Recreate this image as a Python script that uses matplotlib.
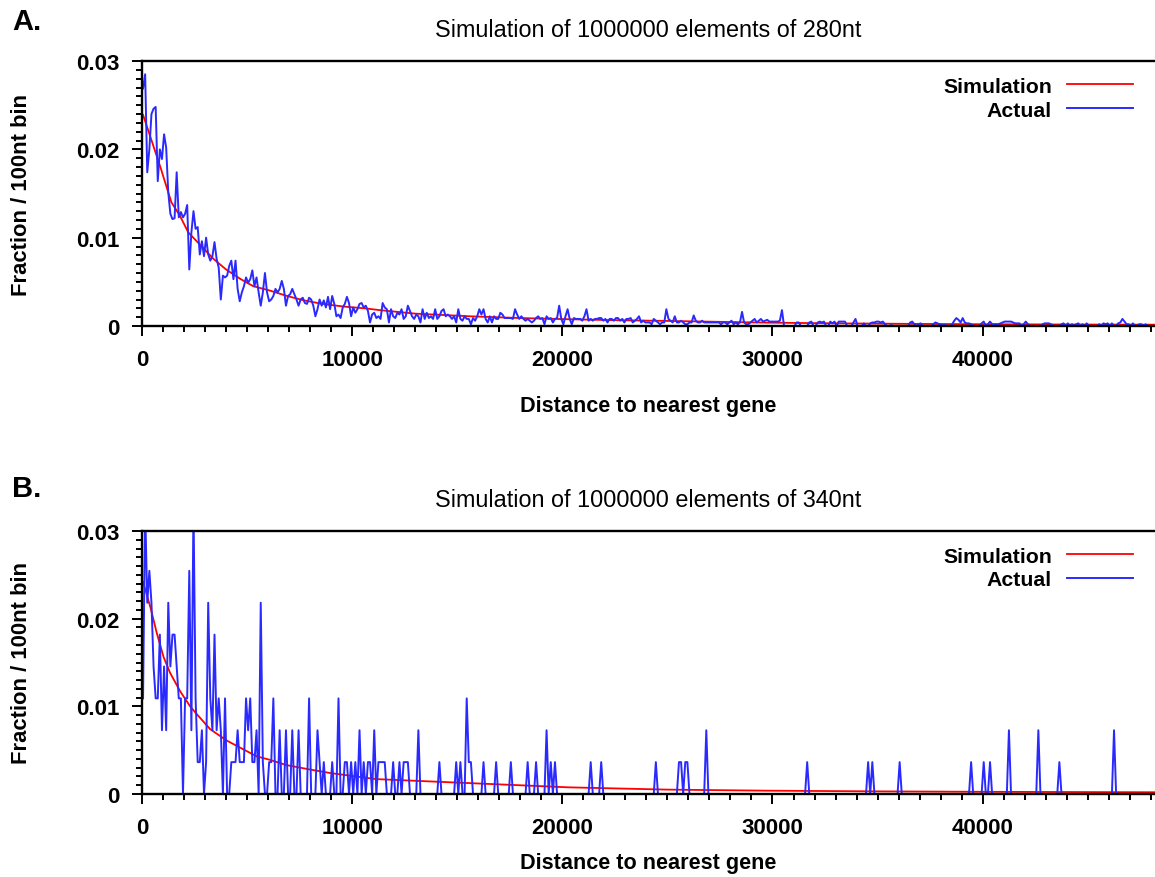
import numpy as np
import matplotlib.pyplot as plt
from matplotlib.ticker import MultipleLocator, FuncFormatter

plt.rcParams['font.family'] = ['Liberation Sans', 'DejaVu Sans']

# 100 nt bins, points drawn at bin centres
bin_size = 100

# panel A: observed fraction per bin, in units of 1e-4
actual_a_e4 = [
    269, 285, 174, 200, 240, 246, 248, 164, 200, 189,
    217, 202, 151, 127, 121, 122, 174, 123, 129, 123,
    127, 137, 64, 106, 130, 110, 112, 81, 96, 79,
    100, 81, 74, 79, 95, 76, 66, 30, 57, 55,
    57, 68, 74, 53, 74, 42, 28, 38, 45, 55,
    49, 53, 63, 45, 55, 38, 23, 38, 60, 38,
    28, 30, 34, 42, 38, 42, 51, 42, 23, 34,
    36, 42, 36, 30, 23, 30, 32, 26, 25, 32,
    30, 23, 11, 19, 30, 23, 29, 21, 33, 19,
    34, 25, 11, 13, 9, 21, 25, 33, 26, 11,
    21, 15, 19, 25, 26, 21, 23, 17, 4, 13,
    15, 9, 11,
    8, 26, 21, 19, 4, 19, 11, 9, 15, 13,
    19, 8, 11, 23, 17, 11, 8, 13, 11, 4,
    19, 8, 15, 9, 11, 8, 19, 8, 11, 17,
    19, 11, 13, 11, 8, 11, 4, 19, 8, 6,
    11, 8, 8, 2, 9, 6, 11, 19, 13, 19,
    8, 4, 11, 4, 11, 8, 8, 15, 13, 9,
    9, 9, 9, 8, 19, 13, 8, 11, 8, 6,
    8, 6, 4, 6, 9, 11, 8, 9, 2, 11,
    8, 9, 4, 8, 9, 23, 8, 2, 11, 19,
    8, 2, 9, 8, 8, 8, 6, 11, 19, 6,
    8, 6, 8, 8, 9, 9, 6, 8, 4, 8,
    8, 6, 9, 9, 6, 8, 4, 8, 8, 9,
    4, 6, 8, 11, 4, 6, 4, 4, 4, 2,
    8, 6, 4, 2, 4, 4, 19, 8, 6, 4,
    11, 4, 4, 6, 4, 2, 2, 4, 4, 12,
    6, 4, 4, 6, 4, 4, 4, 4, 4, 4,
    4, 4, 2, 4, 4, 2, 4, 6, 2, 4,
    2, 4, 16, 4, 2, 2, 4, 6, 8, 4,
    6, 8,
    5, 6, 7, 5, 5, 5, 5, 5, 6,
    18,
    0, 0, 0, 0, 0, 0, 4, 4, 0, 0,
    0, 0, 4, 5, 0, 0, 4, 5, 4, 5,
    0, 0, 5, 3, 5, 0, 5, 5, 5, 5,
    0, 0, 0, 4, 8, 0, 0, 0, 3, 0,
    0, 3, 4, 4, 5, 5, 4, 5, 2, 0,
    0, 1, 0, 0, 0, 0, 0, 0, 0, 0,
    4, 5, 2, 0, 2, 3, 0, 0, 0, 0,
    0, 2, 4, 3, 2, 1, 1, 1, 0, 0,
    2, 6, 9, 7, 4, 9, 4, 3, 3, 2,
    0, 0, 0, 0, 3, 5, 0, 2, 5, 2,
    2, 2, 2, 3, 4, 5, 5, 5, 5, 4,
    3, 3, 3, 0, 2, 5, 2, 0, 0, 0,
    0, 0, 0, 2, 3, 3, 3, 2, 0, 0,
    0, 0, 2, 3, 0, 3, 0, 2, 0, 2,
    3, 0, 2, 0, 3, 0, 0, 0, 0, 0,
    2, 0, 3, 2, 3, 0, 3, 0, 0, 3,
    4, 8, 5, 2, 2, 0, 3, 0, 0, 2,
    2, 0, 2, 0, 0, 0, 0, 0,
]

# panel A: simulated distribution
sim_a_x = [50, 400, 900, 1200, 1400, 1800, 2200, 2800, 3400, 4000, 4700, 5300,
           6100, 6900, 7700, 8600, 9600, 10600, 11300, 13000, 15600, 18000,
           20400, 22500, 25100, 27500, 29800, 33000, 36000, 40000, 44000, 48200]
sim_a = [0.0239, 0.0214, 0.0178, 0.0155, 0.0140, 0.0125, 0.0106, 0.0091, 0.0076,
         0.0064, 0.0053, 0.0045, 0.0040, 0.0034, 0.0029, 0.0025, 0.0022, 0.0020,
         0.0018, 0.0014, 0.0011, 0.0009, 0.00076, 0.00066, 0.00057, 0.00047,
         0.00038, 0.00030, 0.00025, 0.00020, 0.00017, 0.00015]

# panel B: 275 observed elements, counts per bin
n_actual_b = 275
counts_b_head = [
    3, 9, 6, 7, 6, 4, 3, 3, 5, 2,
    4, 2, 6, 4, 5, 5, 4, 3, 3, 0,
    3, 3, 7, 2, 9, 3, 1, 1, 2, 0,
    1, 6, 3, 2, 5, 2, 3, 2, 0, 3,
    0, 0, 1, 1, 1, 2, 1, 1, 1, 3,
    2, 3, 1, 1, 2, 0, 6, 1, 0, 0,
    1, 1, 3, 0, 0, 2, 0, 0, 2, 0,
    0, 2, 0, 0, 2, 0, 0, 0, 0, 3,
    0, 0, 0, 2, 1, 0, 1, 0, 0, 0,
    1, 0, 0, 3, 0, 0, 1, 1, 0, 1,
    0, 1, 0, 2, 0, 1, 0, 1, 1, 0,
    2, 0, 1,
]
# further out only a few bins are occupied
tail_bins_b = [113, 114, 115, 119, 122, 124, 125, 126, 131, 141, 149, 151, 154,
               155, 156, 162, 168, 175, 183, 187, 192, 194, 196, 213, 218, 244,
               255, 256, 258, 259, 268, 316, 345, 347, 360, 394, 400, 403, 412,
               426, 436, 462]
tail_counts_b = [1, 1, 1, 1, 1, 1, 1, 1, 2, 1, 1, 1, 3, 1, 1, 1, 1, 1, 1, 1, 2,
                 1, 1, 1, 1, 1, 1, 1, 1, 1, 2, 1, 1, 1, 1, 1, 1, 1, 2, 2, 1, 2]

sim_b_x = [50, 400, 710, 1030, 1340, 1820, 2290, 2610, 3240, 4030, 4660, 5450,
           6080, 6870, 7980, 8930, 9870, 11140, 15500, 20300, 25000, 29700,
           35000, 40000, 48200]
sim_b = [0.0242, 0.0213, 0.0183, 0.0156, 0.0138, 0.0117, 0.0100, 0.0091, 0.0074,
         0.0061, 0.0053, 0.0043, 0.0039, 0.0033, 0.0028, 0.0024, 0.0021, 0.0017,
         0.00125, 0.00076, 0.0005, 0.00038, 0.0003, 0.00025, 0.0002]

n_bins = len(actual_a_e4)
x_bins = np.arange(n_bins) * bin_size + bin_size / 2
actual_a = np.array(actual_a_e4) / 1e4

counts_b = np.zeros(n_bins)
counts_b[:len(counts_b_head)] = counts_b_head
counts_b[tail_bins_b] = tail_counts_b
actual_b = counts_b / n_actual_b

W, H = 1155, 878
fig = plt.figure(figsize=(W / 100, H / 100), dpi=100)
ax_a = fig.add_axes([142 / W, 1 - 327 / H, 1013 / W, 265 / H])
ax_b = fig.add_axes([142 / W, 1 - 795 / H, 1013 / W, 263 / H])

# axes, panel letter, element length, sim x, sim y, actual y, letter height, xlabel offset
panels = [
    (ax_a, 'A.', 280, sim_a_x, sim_a, actual_a, 22, -0.262),
    (ax_b, 'B.', 340, sim_b_x, sim_b, actual_b, 489, -0.222),
]

for ax, letter, length, sx, sy, ay, letter_y, xlab_y in panels:
    ax.plot(sx, sy, color='#ff0000', lw=1.3, label='Simulation')
    ax.plot(x_bins, ay, color='#2a2aff', lw=1.4, label='Actual')

    ax.set_xlim(0, 48200)
    ax.set_ylim(0, 0.03)
    ax.spines['right'].set_visible(False)
    for s in ['left', 'bottom', 'top']:
        ax.spines[s].set_linewidth(1.7)

    ax.xaxis.set_major_locator(MultipleLocator(10000))
    ax.xaxis.set_minor_locator(MultipleLocator(1000))
    ax.yaxis.set_major_locator(MultipleLocator(0.01))
    ax.yaxis.set_minor_locator(MultipleLocator(0.001))
    ax.xaxis.set_major_formatter(FuncFormatter(lambda v, p: f'{v:.0f}'))
    ax.yaxis.set_major_formatter(FuncFormatter(lambda v, p: f'{v:g}'))
    ax.tick_params(which='both', direction='out', top=False, right=False, width=1.4)
    ax.tick_params(which='major', length=7.5, labelsize=16, pad=9)
    ax.tick_params(which='minor', length=4)
    plt.setp(ax.get_xticklabels() + ax.get_yticklabels(), fontweight='bold')

    ax.set_title(f'Simulation of 1000000 elements of {length}nt', fontsize=16.8, pad=18)
    ax.set_xlabel('Distance to nearest gene', fontsize=15.6, fontweight='bold')
    ax.set_ylabel('Fraction / 100nt bin', fontsize=15.8, fontweight='bold')
    ax.xaxis.set_label_coords(0.5, xlab_y)
    ax.yaxis.set_label_coords(-0.109, 0.5)

    ax.legend(loc='upper right', bbox_to_anchor=(0.978, 0.94), frameon=False,
              markerfirst=False, handlelength=3.1, handletextpad=0.7,
              labelspacing=0.22, borderaxespad=0, borderpad=0,
              prop={'size': 15.3, 'weight': 'bold'})

    fig.text(12 / W, 1 - letter_y / H, letter, fontsize=21, fontweight='bold', va='center')

fig.savefig('out.png', dpi=100)
